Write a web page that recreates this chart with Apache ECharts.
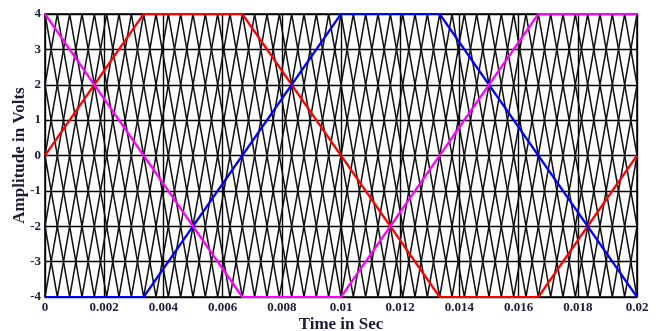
<!DOCTYPE html>
<html>
<head>
<meta charset="utf-8">
<script src="https://cdn.jsdelivr.net/npm/echarts@6/dist/echarts.min.js"></script>
<style>
  html, body { margin: 0; padding: 0; background: #fff; }
  #chart { width: 657px; height: 331px; }
</style>
</head>
<body>
<div id="chart"></div>
<script>
// Three trapezoidal reference signals (vertices: [time s, volts])
const refRed = [[0, 0], [0.003333, 4], [0.006667, 4], [0.013333, -4], [0.016667, -4], [0.02, 0]];
const refBlue = [[0, -4], [0.003333, -4], [0.01, 4], [0.013333, 4], [0.02, -4]];
const refMagenta = [[0, 4], [0.006667, -4], [0.01, -4], [0.016667, 4], [0.02, 4]];

// Eight phase-shifted triangular carriers (vertices: [time s, volts])
const carrier1 = [[0, -4], [0.001667, 4], [0.003333, -4], [0.005, 4], [0.006667, -4], [0.008333, 4], [0.01, -4], [0.011667, 4], [0.013333, -4], [0.015, 4], [0.016667, -4], [0.018333, 4], [0.02, -4]];
const carrier2 = [[0, -2], [0.000417, -4], [0.002083, 4], [0.00375, -4], [0.005417, 4], [0.007083, -4], [0.00875, 4], [0.010417, -4], [0.012083, 4], [0.01375, -4], [0.015417, 4], [0.017083, -4], [0.01875, 4], [0.02, -2]];
const carrier3 = [[0, 0], [0.000833, -4], [0.0025, 4], [0.004167, -4], [0.005833, 4], [0.0075, -4], [0.009167, 4], [0.010833, -4], [0.0125, 4], [0.014167, -4], [0.015833, 4], [0.0175, -4], [0.019167, 4], [0.02, 0]];
const carrier4 = [[0, 2], [0.00125, -4], [0.002917, 4], [0.004583, -4], [0.00625, 4], [0.007917, -4], [0.009583, 4], [0.01125, -4], [0.012917, 4], [0.014583, -4], [0.01625, 4], [0.017917, -4], [0.019583, 4], [0.02, 2]];
const carrier5 = [[0, 4], [0.001667, -4], [0.003333, 4], [0.005, -4], [0.006667, 4], [0.008333, -4], [0.01, 4], [0.011667, -4], [0.013333, 4], [0.015, -4], [0.016667, 4], [0.018333, -4], [0.02, 4]];
const carrier6 = [[0, 2], [0.000417, 4], [0.002083, -4], [0.00375, 4], [0.005417, -4], [0.007083, 4], [0.00875, -4], [0.010417, 4], [0.012083, -4], [0.01375, 4], [0.015417, -4], [0.017083, 4], [0.01875, -4], [0.02, 2]];
const carrier7 = [[0, 0], [0.000833, 4], [0.0025, -4], [0.004167, 4], [0.005833, -4], [0.0075, 4], [0.009167, -4], [0.010833, 4], [0.0125, -4], [0.014167, 4], [0.015833, -4], [0.0175, 4], [0.019167, -4], [0.02, 0]];
const carrier8 = [[0, -2], [0.00125, 4], [0.002917, -4], [0.004583, 4], [0.00625, -4], [0.007917, 4], [0.009583, -4], [0.01125, 4], [0.012917, -4], [0.014583, 4], [0.01625, -4], [0.017917, 4], [0.019583, -4], [0.02, -2]];

const carriers = [carrier1, carrier2, carrier3, carrier4, carrier5, carrier6, carrier7, carrier8];

// Axis ranges and tick steps
const xMin = 0, xMax = 0.02, xStep = 0.002;
const yMin = -4, yMax = 4, yStep = 1;

const textColor = '#1b1b3a';
const serif = '"Liberation Serif", "DejaVu Serif", serif';

const series = [];
carriers.forEach(function (c) {
  series.push({
    type: 'line', data: c, showSymbol: false, silent: true,
    lineStyle: { color: '#111', width: 1.5 }, z: 2
  });
});
[[refRed, '#ff0000'], [refBlue, '#0000ff'], [refMagenta, '#ff00ff']].forEach(function (r) {
  series.push({
    type: 'line', data: r[0], showSymbol: false, silent: true, clip: false,
    lineStyle: { color: r[1], width: 2.2 }, z: 3
  });
});

const chart = echarts.init(document.getElementById('chart'), null, { renderer: 'canvas' });
chart.setOption({
  animation: false,
  backgroundColor: '#fff',
  grid: {
    left: 45, top: 14, width: 592, height: 283, outerBoundsMode: 'none', containLabel: false,
    show: true, borderColor: '#000', borderWidth: 1.5, backgroundColor: 'transparent'
  },
  xAxis: {
    type: 'value', min: xMin, max: xMax, interval: xStep,
    name: 'Time in Sec', nameLocation: 'middle', nameGap: 19, nameMoveOverlap: false,
    nameTextStyle: { color: textColor, fontFamily: serif, fontWeight: 'bold', fontSize: 17 },
    axisLine: { show: false }, axisTick: { show: false },
    axisLabel: {
      color: textColor, fontFamily: serif, fontWeight: 'bold', fontSize: 13, margin: 4,
      formatter: function (v) { return String(parseFloat(v.toFixed(4))); }
    },
    splitLine: { show: true, lineStyle: { color: '#000', width: 1.4 } }
  },
  yAxis: {
    type: 'value', min: yMin, max: yMax, interval: yStep,
    name: 'Amplitude in Volts', nameLocation: 'middle', nameGap: 17, nameMoveOverlap: false,
    nameTextStyle: { color: textColor, fontFamily: serif, fontWeight: 'bold', fontSize: 17 },
    axisLine: { show: false }, axisTick: { show: false },
    axisLabel: { color: textColor, fontFamily: serif, fontWeight: 'bold', fontSize: 13, margin: 4 },
    splitLine: { show: true, lineStyle: { color: '#000', width: 1.4 } }
  },
  series: series
});
</script>
</body>
</html>
